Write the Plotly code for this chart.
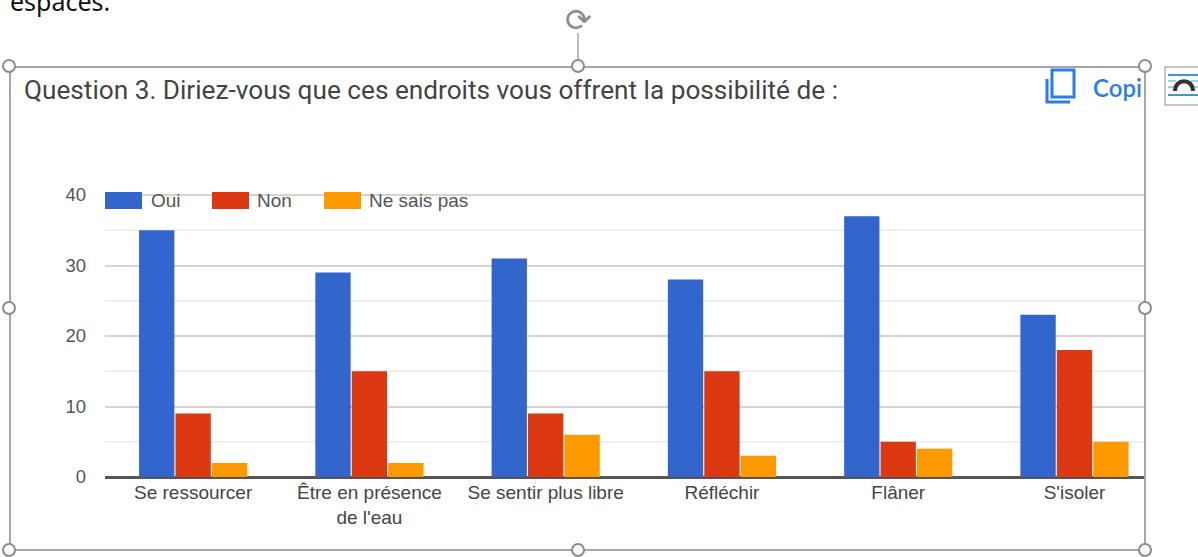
import plotly.graph_objects as go

categories = ["Se ressourcer", "Être en présence<br>de l'eau", "Se sentir plus libre", "Réfléchir", "Flâner", "S'isoler"]
series_names = ["Oui", "Non", "Ne sais pas"]
oui = [35, 29, 31, 28, 37, 23]
non = [9, 15, 9, 15, 5, 18]
ne_sais_pas = [2, 2, 6, 3, 4, 5]
colors = ["#3366cc", "#dc3912", "#ff9900"]
title_text = "Question 3. Diriez-vous que ces endroits vous offrent la possibilité de :"
y_ticks = [0, 10, 20, 30, 40]

W, H = 1198, 557
L, R, T, B = 105, 1145, 190, 477
Y_TOP = 40 * (B - T) / (B - 195)
def px(x): return (x - L) / (R - L)
def py(y): return (B - y) / (B - T)

fig = go.Figure()
for name, vals, c in zip(series_names, [oui, non, ne_sais_pas], colors):
    fig.add_bar(x=categories, y=vals, name=name, marker=dict(color=c, line=dict(width=0)), showlegend=False)

shapes = []
ann = []
def rect(x0, y0, x1, y1, **kw):
    shapes.append(dict(type="rect", xref="paper", yref="paper", x0=px(x0), x1=px(x1), y0=py(y0), y1=py(y1), **kw))
def line(x0, y0, x1, y1, color, width):
    shapes.append(dict(type="line", xref="paper", yref="paper", x0=px(x0), x1=px(x1), y0=py(y0), y1=py(y1), line=dict(color=color, width=width)))
def text(x, y, s, size, color, family, anchor="left", weight="normal"):
    ann.append(dict(xref="paper", yref="paper", x=px(x), y=py(y), text=s, showarrow=False, xanchor=anchor, yanchor="middle",
                    font=dict(size=size, color=color, family=family, weight=weight), align=anchor))

# minor gridlines
for v in [5, 15, 25, 35]:
    shapes.append(dict(type="line", xref="paper", yref="y", x0=0, x1=1, y0=v, y1=v, layer="below", line=dict(color="#ececec", width=1.5)))

# legend
lx = [105, 212, 324]
tx = [149, 255, 367]
for x, t, s, c in zip(lx, tx, series_names, colors):
    rect(x, 192, x + 37, 209, fillcolor=c, line=dict(width=0))
    text(t, 200.5, s, 19, "#555555", "Liberation Sans")

# selection frame
frame = "#a6a6a6"
rect(10, 67, 1145, 550, line=dict(color=frame, width=2), fillcolor="rgba(0,0,0,0)")
line(578, 33, 578, 60, frame, 1.5)
for hx, hy in [(9, 66), (578, 66), (1145, 66), (9, 308), (1145, 308), (9, 550), (578, 550), (1145, 550)]:
    shapes.append(dict(type="circle", xref="paper", yref="paper", x0=px(hx - 6), x1=px(hx + 6), y0=py(hy - 6), y1=py(hy + 6),
                       fillcolor="white", line=dict(color="#8c8c8c", width=2)))

# copy icon
blue = "#2a7de9"
rect(1052, 70, 1074, 97, line=dict(color=blue, width=3), fillcolor="rgba(0,0,0,0)")
shapes.append(dict(type="path", xref="paper", yref="paper",
                   path=f"M {px(1047)} {py(79)} L {px(1047)} {py(102)} L {px(1070)} {py(102)}", line=dict(color=blue, width=3)))

# wrap icon
rect(1165, 67, 1203, 105, line=dict(color="#b5b5b5", width=1.5), fillcolor="white")
for yy in [75, 95]:
    line(1168, yy, 1198, yy, "#3a9ad9", 2)
for yy in [81, 87]:
    line(1168, yy, 1176, yy, "#7fbfe8", 1.5)
    line(1190, yy, 1198, yy, "#7fbfe8", 1.5)
shapes.append(dict(type="path", xref="paper", yref="paper",
                   path=f"M {px(1175)} {py(91)} C {px(1175)} {py(78)}, {px(1193)} {py(78)}, {px(1193)} {py(91)}",
                   line=dict(color="#333333", width=4)))

text(22, 90, title_text, 26.2, "#444444", "Roboto")
text(1091, 87, "Copi", 24, blue, "Lato", weight=600)
text(8, 1, "espaces.", 25, "#111111", "Noto Sans")
text(578, 20, "⟳", 32, "#8c8c8c", "DejaVu Sans", "center")

fig.update_layout(
    width=W, height=H, autosize=False,
    margin=dict(l=L, r=W - R, t=T, b=H - B, pad=0),
    paper_bgcolor="white", plot_bgcolor="white",
    barmode="group", bargap=0.38, bargroupgap=0.03,
    shapes=shapes, annotations=ann,
    xaxis=dict(range=[-0.5, 5.4], showgrid=False, ticks="", showline=False, zeroline=False, ticklabelstandoff=2,
               tickfont=dict(family="Liberation Sans", size=19, color="#444444")),
    yaxis=dict(range=[0, Y_TOP], tickvals=y_ticks, showgrid=True, gridcolor="#d4d4d4", gridwidth=1.5,
               zeroline=True, zerolinecolor="#555555", zerolinewidth=2.5, ticks="", ticklabelstandoff=18,
               tickfont=dict(family="Liberation Sans", size=18.5, color="#555555")),
)
fig.write_html("out.html", config={"displayModeBar": False},
               post_script="document.body.style.margin='0';document.body.style.overflow='hidden';")
